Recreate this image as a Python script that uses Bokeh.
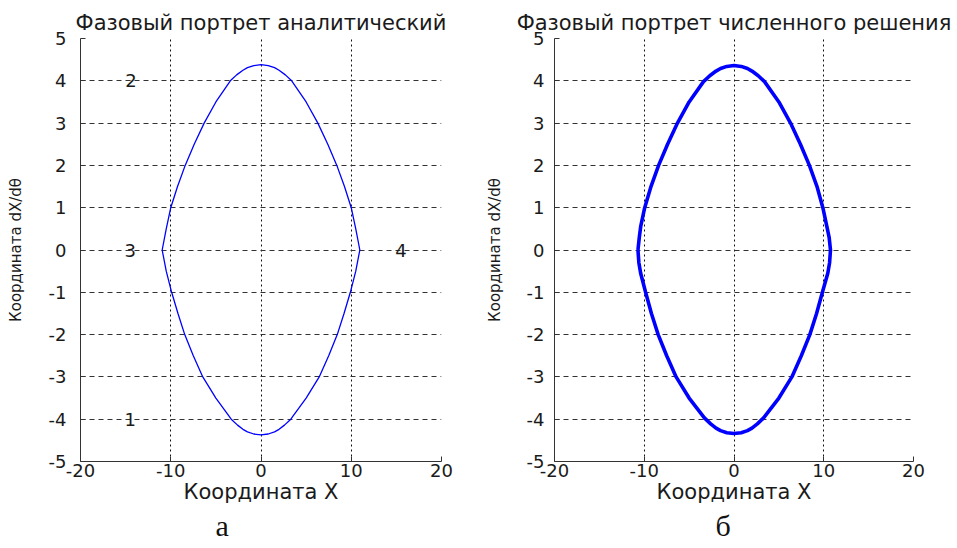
from bokeh.plotting import figure
from bokeh.layouts import row
from bokeh.models import FixedTicker, Title, PrintfTickFormatter
from bokeh.embed import file_html
from bokeh.resources import INLINE

# Analytic phase trajectory: upper branch left->right, lower branch right->left
xa_upper = [-10.95, -10.5, -10.0, -9.25, -8.4, -7.4, -6.3, -5.0, -3.4, -2.7, -2.0, -1.5, -0.8, 0.0,
            0.8, 1.5, 2.0, 2.7, 3.4, 5.0, 6.3, 7.4, 8.4, 9.25, 10.0, 10.5, 10.95]
ya_upper = [0.0, 0.5, 1.0, 1.5, 2.0, 2.5, 3.0, 3.5, 4.0, 4.14, 4.25, 4.31, 4.36, 4.38,
            4.36, 4.31, 4.25, 4.14, 4.0, 3.5, 3.0, 2.5, 2.0, 1.5, 1.0, 0.5, 0.0]
xa_lower = [10.95, 10.5, 9.9, 9.2, 8.45, 7.5, 6.45, 5.0, 3.3, 2.6, 2.0, 1.5, 0.8, 0.0,
            -0.8, -1.5, -2.0, -2.6, -3.3, -5.0, -6.45, -7.5, -8.45, -9.2, -9.9, -10.5, -10.95]
ya_lower = [0.0, -0.5, -1.0, -1.5, -2.0, -2.5, -3.0, -3.5, -4.0, -4.14, -4.24, -4.3, -4.35, -4.37,
            -4.35, -4.3, -4.24, -4.14, -4.0, -3.5, -3.0, -2.5, -2.0, -1.5, -1.0, -0.5, 0.0]

# Numerical solution trajectory
xn_upper = [-10.7, -10.55, -10.4, -9.95, -9.25, -8.4, -7.4, -6.3, -5.0, -3.4, -2.7, -2.0, -1.5, -0.8, 0.0,
            0.8, 1.5, 2.0, 2.7, 3.4, 5.0, 6.3, 7.4, 8.4, 9.25, 9.9, 10.35, 10.6, 10.75]
yn_upper = [0.0, 0.3, 0.55, 1.0, 1.5, 2.0, 2.5, 3.0, 3.5, 3.98, 4.12, 4.23, 4.29, 4.34, 4.36,
            4.34, 4.29, 4.23, 4.12, 3.98, 3.5, 3.0, 2.5, 2.0, 1.5, 1.0, 0.55, 0.3, 0.0]
xn_lower = [10.75, 10.65, 10.45, 9.85, 9.2, 8.45, 7.5, 6.45, 5.0, 3.3, 2.6, 2.0, 1.5, 0.8, 0.0,
            -0.8, -1.5, -2.0, -2.6, -3.3, -5.0, -6.45, -7.5, -8.45, -9.2, -9.85, -10.4, -10.6, -10.7]
yn_lower = [0.0, -0.3, -0.55, -1.0, -1.5, -2.0, -2.5, -3.0, -3.5, -3.97, -4.11, -4.21, -4.27, -4.32, -4.34,
            -4.32, -4.27, -4.21, -4.11, -3.97, -3.5, -3.0, -2.5, -2.0, -1.5, -1.0, -0.55, -0.3, 0.0]

x_ticks = [-20, -10, 0, 10, 20]
y_ticks = [-5, -4, -3, -2, -1, 0, 1, 2, 3, 4, 5]

# Region marks on the analytic portrait
mark_text = ["1", "2", "3", "4"]
mark_x = [-14.5, -14.4, -14.5, 15.5]
mark_y = [-4, 4, 0, 0]

FONT = "DejaVu Sans"
INK = "#1a1a1a"


def make_panel(title, xs, ys, lw, width, border_left, border_right,
               tick_standoff, ylabel_standoff, caption, caption_offset):
    p = figure(width=width, height=548, x_range=(-20, 20), y_range=(-5, 5),
               output_backend="svg", toolbar_location=None, title=title,
               min_border_left=border_left, min_border_right=border_right,
               min_border_top=38, min_border_bottom=87)
    p.outline_line_color = None
    p.background_fill_color = "white"
    p.border_fill_color = "white"

    p.title.align = "center"
    p.title.text_font = FONT
    p.title.text_font_size = "21px"
    p.title.text_font_style = "normal"
    p.title.text_color = INK
    p.title.standoff = 7

    p.xaxis.ticker = FixedTicker(ticks=x_ticks)
    p.yaxis.ticker = FixedTicker(ticks=y_ticks)
    for ax in (p.xaxis, p.yaxis):
        ax.formatter = PrintfTickFormatter(format="%d")
        ax.major_tick_in = 5
        ax.major_tick_out = 0
        ax.minor_tick_line_color = None
        ax.axis_line_color = "#333333"
        ax.major_tick_line_color = "#333333"
        ax.major_label_text_font = FONT
        ax.major_label_text_font_size = "18px"
        ax.major_label_text_color = INK
        ax.axis_label_text_font = FONT
        ax.axis_label_text_font_style = "normal"
        ax.axis_label_text_color = INK
    p.xaxis.axis_label = "Координата X"
    p.yaxis.axis_label = "Координата dX/dθ"
    p.xaxis.axis_label_text_font_size = "21px"
    p.yaxis.axis_label_text_font_size = "15px"
    p.xaxis.major_label_standoff = 2
    p.yaxis.major_label_standoff = tick_standoff
    p.xaxis.axis_label_standoff = 0
    p.yaxis.axis_label_standoff = ylabel_standoff

    p.xgrid.grid_line_color = "#111111"
    p.xgrid.grid_line_dash = "2 3"
    p.xgrid.grid_line_width = 1
    p.ygrid.grid_line_color = "#333333"
    p.ygrid.grid_line_dash = "5 4"
    p.ygrid.grid_line_width = 1

    p.line(xs, ys, line_color="#0000ff", line_width=lw)

    cap = Title(text=caption, align="left", offset=caption_offset,
                text_font="Liberation Serif", text_font_size="30px",
                text_font_style="normal", text_color="#111111", standoff=0)
    p.add_layout(cap, "below")
    return p


left = make_panel("Фазовый портрет аналитический",
                  xa_upper + xa_lower, ya_upper + ya_lower, 1.3, 478, 80, 37,
                  14, 21, "а", 135)
left.text(mark_x, mark_y, text=mark_text, text_font={"value": FONT}, text_font_size="18px",
          text_align="center", text_baseline="middle", text_color=INK)

right = make_panel("Фазовый портрет численного решения",
                   xn_upper + xn_lower, yn_upper + yn_lower, 3.6, 479, 76, 44,
                   10, 20, "б", 161)

layout = row(left, right)
open("out.html", "w").write(file_html(layout, INLINE))
